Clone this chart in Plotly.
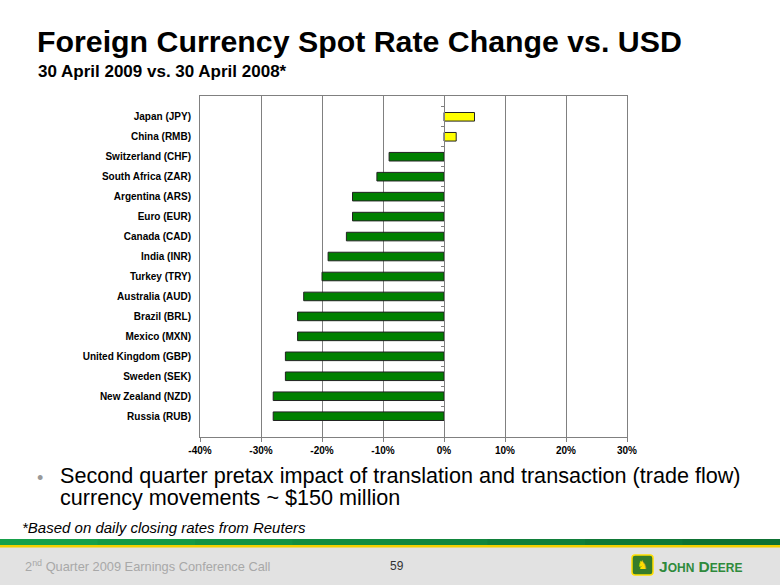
import plotly.graph_objects as go

categories = ["Japan (JPY)", "China (RMB)", "Switzerland (CHF)", "South Africa (ZAR)",
              "Argentina (ARS)", "Euro (EUR)", "Canada (CAD)", "India (INR)",
              "Turkey (TRY)", "Australia (AUD)", "Brazil (BRL)", "Mexico (MXN)",
              "United Kingdom (GBP)", "Sweden (SEK)", "New Zealand (NZD)", "Russia (RUB)"]
change = [0.05, 0.02, -0.09, -0.11, -0.15, -0.15, -0.16, -0.19,
          -0.20, -0.23, -0.24, -0.24, -0.26, -0.26, -0.28, -0.28]
x_ticks = [-0.4, -0.3, -0.2, -0.1, 0.0, 0.1, 0.2, 0.3]
x_tick_labels = ["-40%", "-30%", "-20%", "-10%", "0%", "10%", "20%", "30%"]

W, H = 780, 585
L, R, T, B = 200, 627, 96, 437


def px(X):
    return (X - L) / (R - L)


def py(Y):
    return (B - Y) / (B - T)


colors = ["#FFFF00" if v > 0 else "#008000" for v in change]

fig = go.Figure()
fig.add_trace(go.Bar(
    x=change, y=categories, orientation="h",
    marker=dict(color=colors, line=dict(color="#222222", width=1)),
    hoverinfo="x+y",
))
# overlay axis at 0 for the small category boundary ticks
fig.add_trace(go.Scatter(x=[0] * len(categories), y=categories, yaxis="y2",
                         mode="markers", marker=dict(opacity=0), hoverinfo="skip",
                         showlegend=False))

FONT = "Arial, Liberation Sans, Helvetica, sans-serif"

fig.update_layout(
    width=W, height=H,
    margin=dict(l=L, r=W - R, t=T, b=H - B, pad=0),
    paper_bgcolor="white", plot_bgcolor="white",
    showlegend=False,
    bargap=0.57,
    font=dict(family=FONT, color="black"),
    xaxis=dict(
        range=[-0.4, 0.3], tickvals=x_ticks, ticktext=x_tick_labels,
        showgrid=True, gridcolor="#808080", gridwidth=1,
        zeroline=False, showline=True, linecolor="#808080", linewidth=1,
        mirror=True, ticks="outside", ticklen=4, tickcolor="#808080",
        tickfont=dict(family=FONT, size=10, color="black", weight="bold"),
        fixedrange=True,
    ),
    yaxis=dict(
        categoryorder="array", categoryarray=categories, autorange="reversed",
        showgrid=False, zeroline=False, showline=True, linecolor="#808080",
        linewidth=1, mirror=True, ticks="", ticklabelstandoff=6,
        tickfont=dict(family=FONT, size=10, color="black", weight="bold"),
        fixedrange=True,
    ),
    yaxis2=dict(
        overlaying="y", matches="y", anchor="free", position=4 / 7,
        side="left", showgrid=False, zeroline=False, showline=True,
        linecolor="#808080", linewidth=1, ticks="outside", tickson="boundaries",
        ticklen=3, tickcolor="#808080", showticklabels=False, fixedrange=True,
    ),
)

ann = []
ann.append(dict(text="<b>Foreign Currency Spot Rate Change vs. USD</b>",
                x=px(35), y=py(42), xanchor="left", yanchor="middle",
                font=dict(family=FONT, size=30.3, color="black")))
ann.append(dict(text="<b>30 April 2009 vs. 30 April 2008*</b>",
                x=px(36), y=py(71), xanchor="left", yanchor="middle",
                font=dict(family=FONT, size=17, color="black")))
ann.append(dict(text="•", x=px(35), y=py(478), xanchor="left", yanchor="middle",
                font=dict(family=FONT, size=18, color="#999999")))
ann.append(dict(text="Second quarter pretax impact of translation and transaction (trade flow)",
                x=px(58), y=py(476), xanchor="left", yanchor="middle", align="left",
                font=dict(family=FONT, size=21.6, color="black")))
ann.append(dict(text="currency movements ~ $150 million",
                x=px(58), y=py(497), xanchor="left", yanchor="middle", align="left",
                font=dict(family=FONT, size=21.6, color="black")))
ann.append(dict(text="<i>*Based on daily closing rates from Reuters</i>",
                x=px(20), y=py(527), xanchor="left", yanchor="middle",
                font=dict(family=FONT, size=15, color="black")))
ann.append(dict(text="2<sup>nd</sup> Quarter 2009 Earnings Conference Call",
                x=px(23), y=py(566), xanchor="left", yanchor="middle",
                font=dict(family=FONT, size=12.8, color="#a8a8a8")))
ann.append(dict(text="59", x=px(397), y=py(566), xanchor="center", yanchor="middle",
                font=dict(family=FONT, size=12, color="#333333")))
ann.append(dict(text="<b>J<span style='font-size:12px'>OHN</span> D<span style='font-size:12px'>EERE</span></b>",
                x=px(657), y=py(566), xanchor="left", yanchor="middle",
                font=dict(family=FONT, size=15.5, color="#2f8a3c")))
ann.append(dict(text="<b>♞</b>", x=px(642.5), y=py(565), xanchor="center", yanchor="middle",
                font=dict(family="DejaVu Sans", size=12, color="#FFDE00")))
for a in ann:
    a.update(xref="paper", yref="paper", showarrow=False)
fig.update_layout(annotations=ann)

shapes = []
# footer background
shapes.append(dict(type="rect", x0=px(0), x1=px(W), y0=py(547), y1=py(H),
                   fillcolor="#e2e2e2", line=dict(width=0), layer="below"))
# green stripe (segmented to approximate gradient)
greens = ["#16a04a", "#149a46", "#139343", "#128c40", "#11863d", "#107f3a", "#0f7836", "#0e7133"]
n = len(greens)
for i, g in enumerate(greens):
    shapes.append(dict(type="rect", x0=px(W * i / n), x1=px(W * (i + 1) / n) + 0.002,
                       y0=py(539), y1=py(545), fillcolor=g, line=dict(width=0), layer="below"))
shapes.append(dict(type="rect", x0=px(0), x1=px(W), y0=py(545), y1=py(547.5),
                   fillcolor="#f2cf00", line=dict(width=0), layer="below"))
# logo badge
shapes.append(dict(type="path",
                   path=f"M {px(635)},{py(555)} L {px(650)},{py(555)} Q {px(653)},{py(555)} {px(653)},{py(558)} "
                        f"L {px(653)},{py(572)} Q {px(653)},{py(575)} {px(650)},{py(575)} L {px(635)},{py(575)} "
                        f"Q {px(632)},{py(575)} {px(632)},{py(572)} L {px(632)},{py(558)} Q {px(632)},{py(555)} {px(635)},{py(555)} Z",
                   fillcolor="#367C2B", line=dict(color="#FFDE00", width=1.5), layer="above"))
for s in shapes:
    s.update(xref="paper", yref="paper")
fig.update_layout(shapes=shapes)

fig.write_html("out.html", config={"displayModeBar": False},
               post_script="document.body.style.margin='0';document.body.style.overflow='hidden';")
